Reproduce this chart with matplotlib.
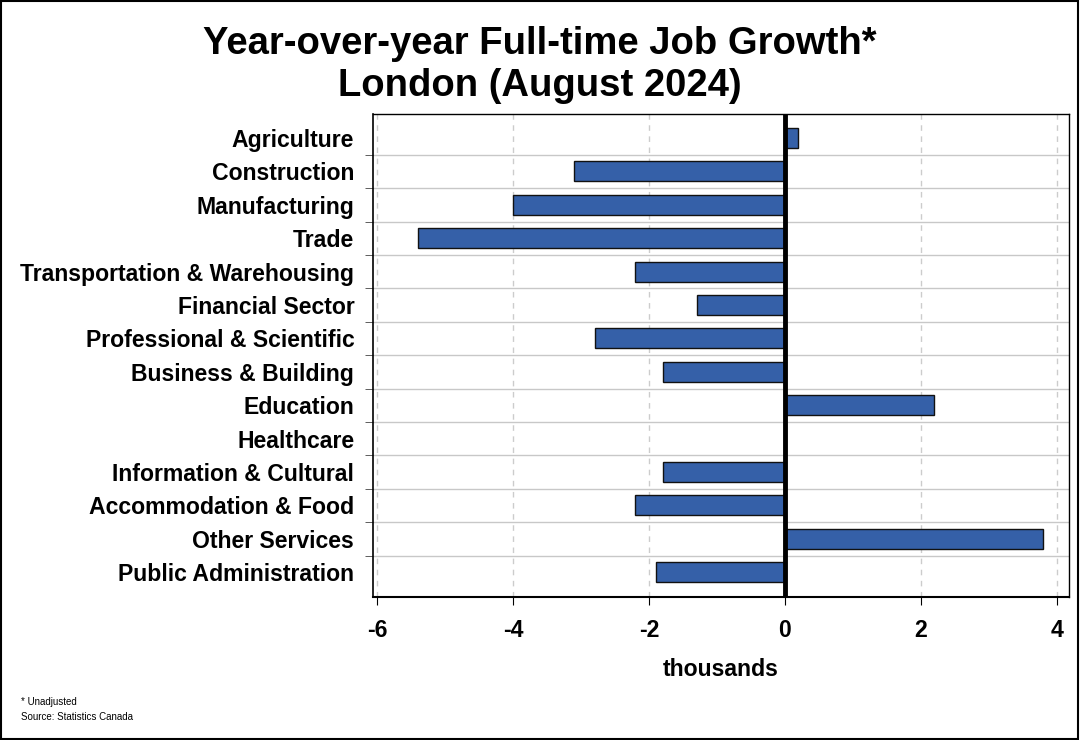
import numpy as np
import matplotlib.pyplot as plt
from matplotlib.patches import Rectangle

plt.rcParams['font.family'] = ['Liberation Sans', 'DejaVu Sans']

industries = [
    "Agriculture", "Construction", "Manufacturing", "Trade",
    "Transportation & Warehousing", "Financial Sector",
    "Professional & Scientific", "Business & Building", "Education",
    "Healthcare", "Information & Cultural", "Accommodation & Food",
    "Other Services", "Public Administration",
]
growth = [0.2, -3.1, -4.0, -5.4, -2.2, -1.3, -2.8, -1.8, 2.2, 0.0, -1.8, -2.2, 3.8, -1.9]
xticks = [-6, -4, -2, 0, 2, 4]

fig = plt.figure(figsize=(10.8, 7.4), dpi=100)
ax = fig.add_axes([373 / 1080, 1 - 597 / 740, (1069 - 373) / 1080, (597 - 114) / 740])

y = np.arange(len(industries))
ax.barh(y, growth, height=0.6, color='#3560a8', edgecolor='#111111', linewidth=1.0, zorder=3)
ax.axvline(0, color='black', linewidth=3.5, zorder=4)

ax.set_ylim(len(industries) - 0.5 + 0.24, -0.5 - 0.22)
ax.set_xlim(-6.06, 4.18)
ax.set_yticks(y)
ax.set_yticklabels(industries, fontsize=16.6, fontweight='bold')
ax.tick_params(axis='y', which='major', length=0, pad=13.5)
ax.set_yticks(np.arange(len(industries) - 1) + 0.5, minor=True)
ax.tick_params(axis='y', which='minor', length=6, color='#444444')
ax.grid(axis='y', which='minor', color='#c8c8c8', linewidth=1.0, zorder=0)

ax.set_xticks(xticks)
ax.set_xticklabels([str(t) for t in xticks], fontsize=16.6, fontweight='bold')
ax.tick_params(axis='x', length=6, pad=10)
ax.grid(axis='x', which='major', color='#cccccc', linestyle=(0, (4, 4)), linewidth=1.0, zorder=0)
ax.set_xlabel('thousands', fontsize=16.6, fontweight='bold', labelpad=11)

for side in ['top', 'right']:
    ax.spines[side].set_linewidth(1.0)
ax.spines['left'].set_linewidth(1.2)
ax.spines['bottom'].set_linewidth(1.5)

fig.suptitle('Year-over-year Full-time Job Growth*\nLondon (August 2024)',
             fontsize=27.5, fontweight='bold', x=0.5, y=0.965, linespacing=1.22)

fig.text(21 / 1080, 1 - 702 / 740, '* Unadjusted', fontsize=7, va='center')
fig.text(21 / 1080, 1 - 717 / 740, 'Source: Statistics Canada', fontsize=7, va='center')

fig.patches.append(Rectangle((0.0005, 0.0008), 0.998, 0.998, transform=fig.transFigure,
                             fill=False, edgecolor='black', linewidth=1.5))

fig.savefig('out.png', dpi=100)
